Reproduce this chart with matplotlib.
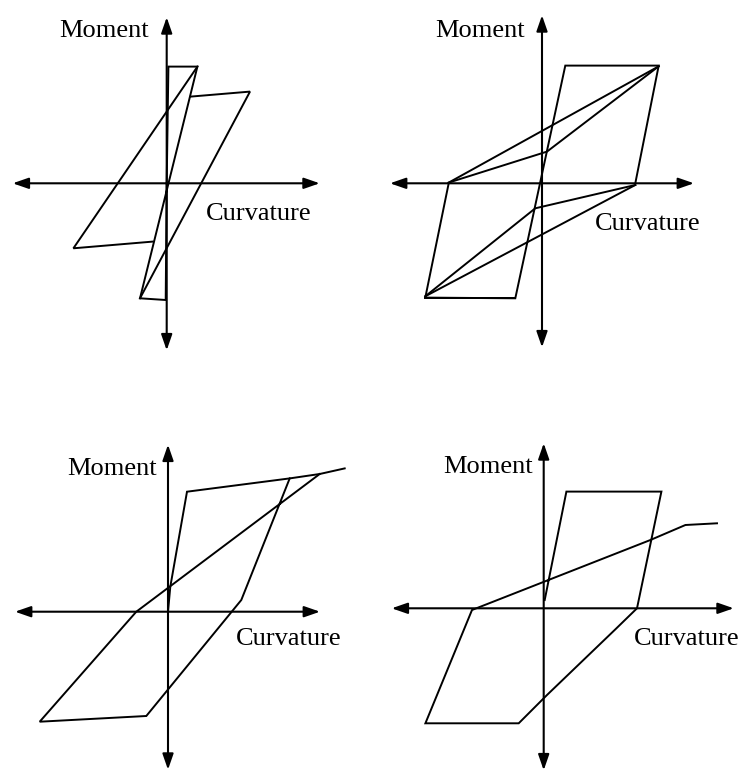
import matplotlib
matplotlib.use("Agg")
import matplotlib.pyplot as plt

plt.rcParams['font.family'] = ['Liberation Serif', 'DejaVu Serif']

# ---- data (moment-curvature paths, units relative to the axis origin) ----
# Panel 1 (top-left)
p1_core_x = [0, 1.7, 30.7, -26.7, -1, 0]
p1_core_y = [0, 116.7, 116.7, -115, -116.7, 0]
p1_left_x = [30.7, -93.3, -14]
p1_left_y = [116.7, -65, -58.3]
p1_right_x = [-26.7, 83.3, 24]
p1_right_y = [-115, 91.7, 86.7]

# Panel 2 (top-right)
p2_frame_x = [-93.3, -116.7, -26.7, 23.3, 116.7, 93.3]
p2_frame_y = [0, -114.3, -115, 117.7, 117.7, 0]
p2_bot_x = [-116.7, -26.7]
p2_bot_y = [-115, -115]
p2_up1_x = [-93.3, 116.7]
p2_up1_y = [0.7, 117]
p2_up2_x = [-93.3, 5, 116.7]
p2_up2_y = [0.7, 31.7, 117]
p2_dn1_x = [-116.7, 93.3]
p2_dn1_y = [-113, -1.7]
p2_dn2_x = [-116.7, -6.7, 93.3]
p2_dn2_y = [-113, -25, -1.7]

# Panel 3 (bottom-left)
p3_top_x = [0, 2.3, 19, 121.7, 151.7, 176.7]
p3_top_y = [0, 25, 120, 133.3, 137.7, 143.3]
p3_loop_x = [121.7, 73.3, -21.7, -128.3, -31.7, 151.7]
p3_loop_y = [133.3, 11.7, -104.3, -110, 0, 137.7]

# Panel 4 (bottom-right)
p4_loop_x = [1, 22.7, 117.7, 93.3, 71.7, 3.3, -25, -118.3, -71.7, 106.7, 141.7, 173.3]
p4_loop_y = [8.3, 116.7, 116.7, 0, -21, -86.7, -115, -115, -1.7, 68.3, 83.3, 85]

panels = [
    dict(origin=(166.7, 183.3), arms=(154, 153, 167, 166),
         lines=[(p1_core_x, p1_core_y), (p1_left_x, p1_left_y), (p1_right_x, p1_right_y)],
         moment=(-62.7, 146.6), curv=(92.3, -36.7)),
    dict(origin=(542, 183.3), arms=(152, 152, 164, 168),
         lines=[(p2_frame_x, p2_frame_y), (p2_bot_x, p2_bot_y), (p2_up1_x, p2_up1_y),
                (p2_up2_x, p2_up2_y), (p2_dn1_x, p2_dn1_y), (p2_dn2_x, p2_dn2_y)],
         moment=(-61.5, 146), curv=(106, -46.7)),
    dict(origin=(168, 611.7), arms=(153, 152, 158, 167),
         lines=[(p3_top_x, p3_top_y), (p3_loop_x, p3_loop_y)],
         moment=(-55.8, 136.7), curv=(120.2, -33.3)),
    dict(origin=(543.7, 608.3), arms=(152, 190, 162, 165),
         lines=[(p4_loop_x, p4_loop_y)],
         moment=(-55.7, 135.6), curv=(143.3, -36.7)),
]

W, H = 744, 775
fig = plt.figure(figsize=(W / 100, H / 100), dpi=100)

L, R, B, T = 180, 210, 190, 190
for p in panels:
    ox, oy = p['origin']
    ax = fig.add_axes([(ox - L) / W, 1 - (oy + B) / H, (L + R) / W, (B + T) / H])
    ax.set_xlim(-L, R)
    ax.set_ylim(-B, T)
    ax.axis('off')
    ax.patch.set_alpha(0)
    la, ra, ba, ta = p['arms']
    arrow = dict(arrowstyle='<|-|>,head_length=0.95,head_width=0.33', color='black',
                 lw=1.5, shrinkA=0, shrinkB=0)
    ax.annotate('', xy=(ra, 0), xytext=(-la, 0), arrowprops=arrow)
    ax.annotate('', xy=(0, ta), xytext=(0, -ba), arrowprops=arrow)
    for xs, ys in p['lines']:
        ax.plot(xs, ys, color='black', lw=1.4, solid_joinstyle='miter')
    mx, my = p['moment']
    ax.text(mx, my, 'Moment', ha='center', va='baseline', fontsize=19, color='black')
    cx, cy = p['curv']
    ax.text(cx, cy, 'Curvature', ha='center', va='baseline', fontsize=19, color='black')

fig.savefig('out.png', dpi=100, facecolor='white')
